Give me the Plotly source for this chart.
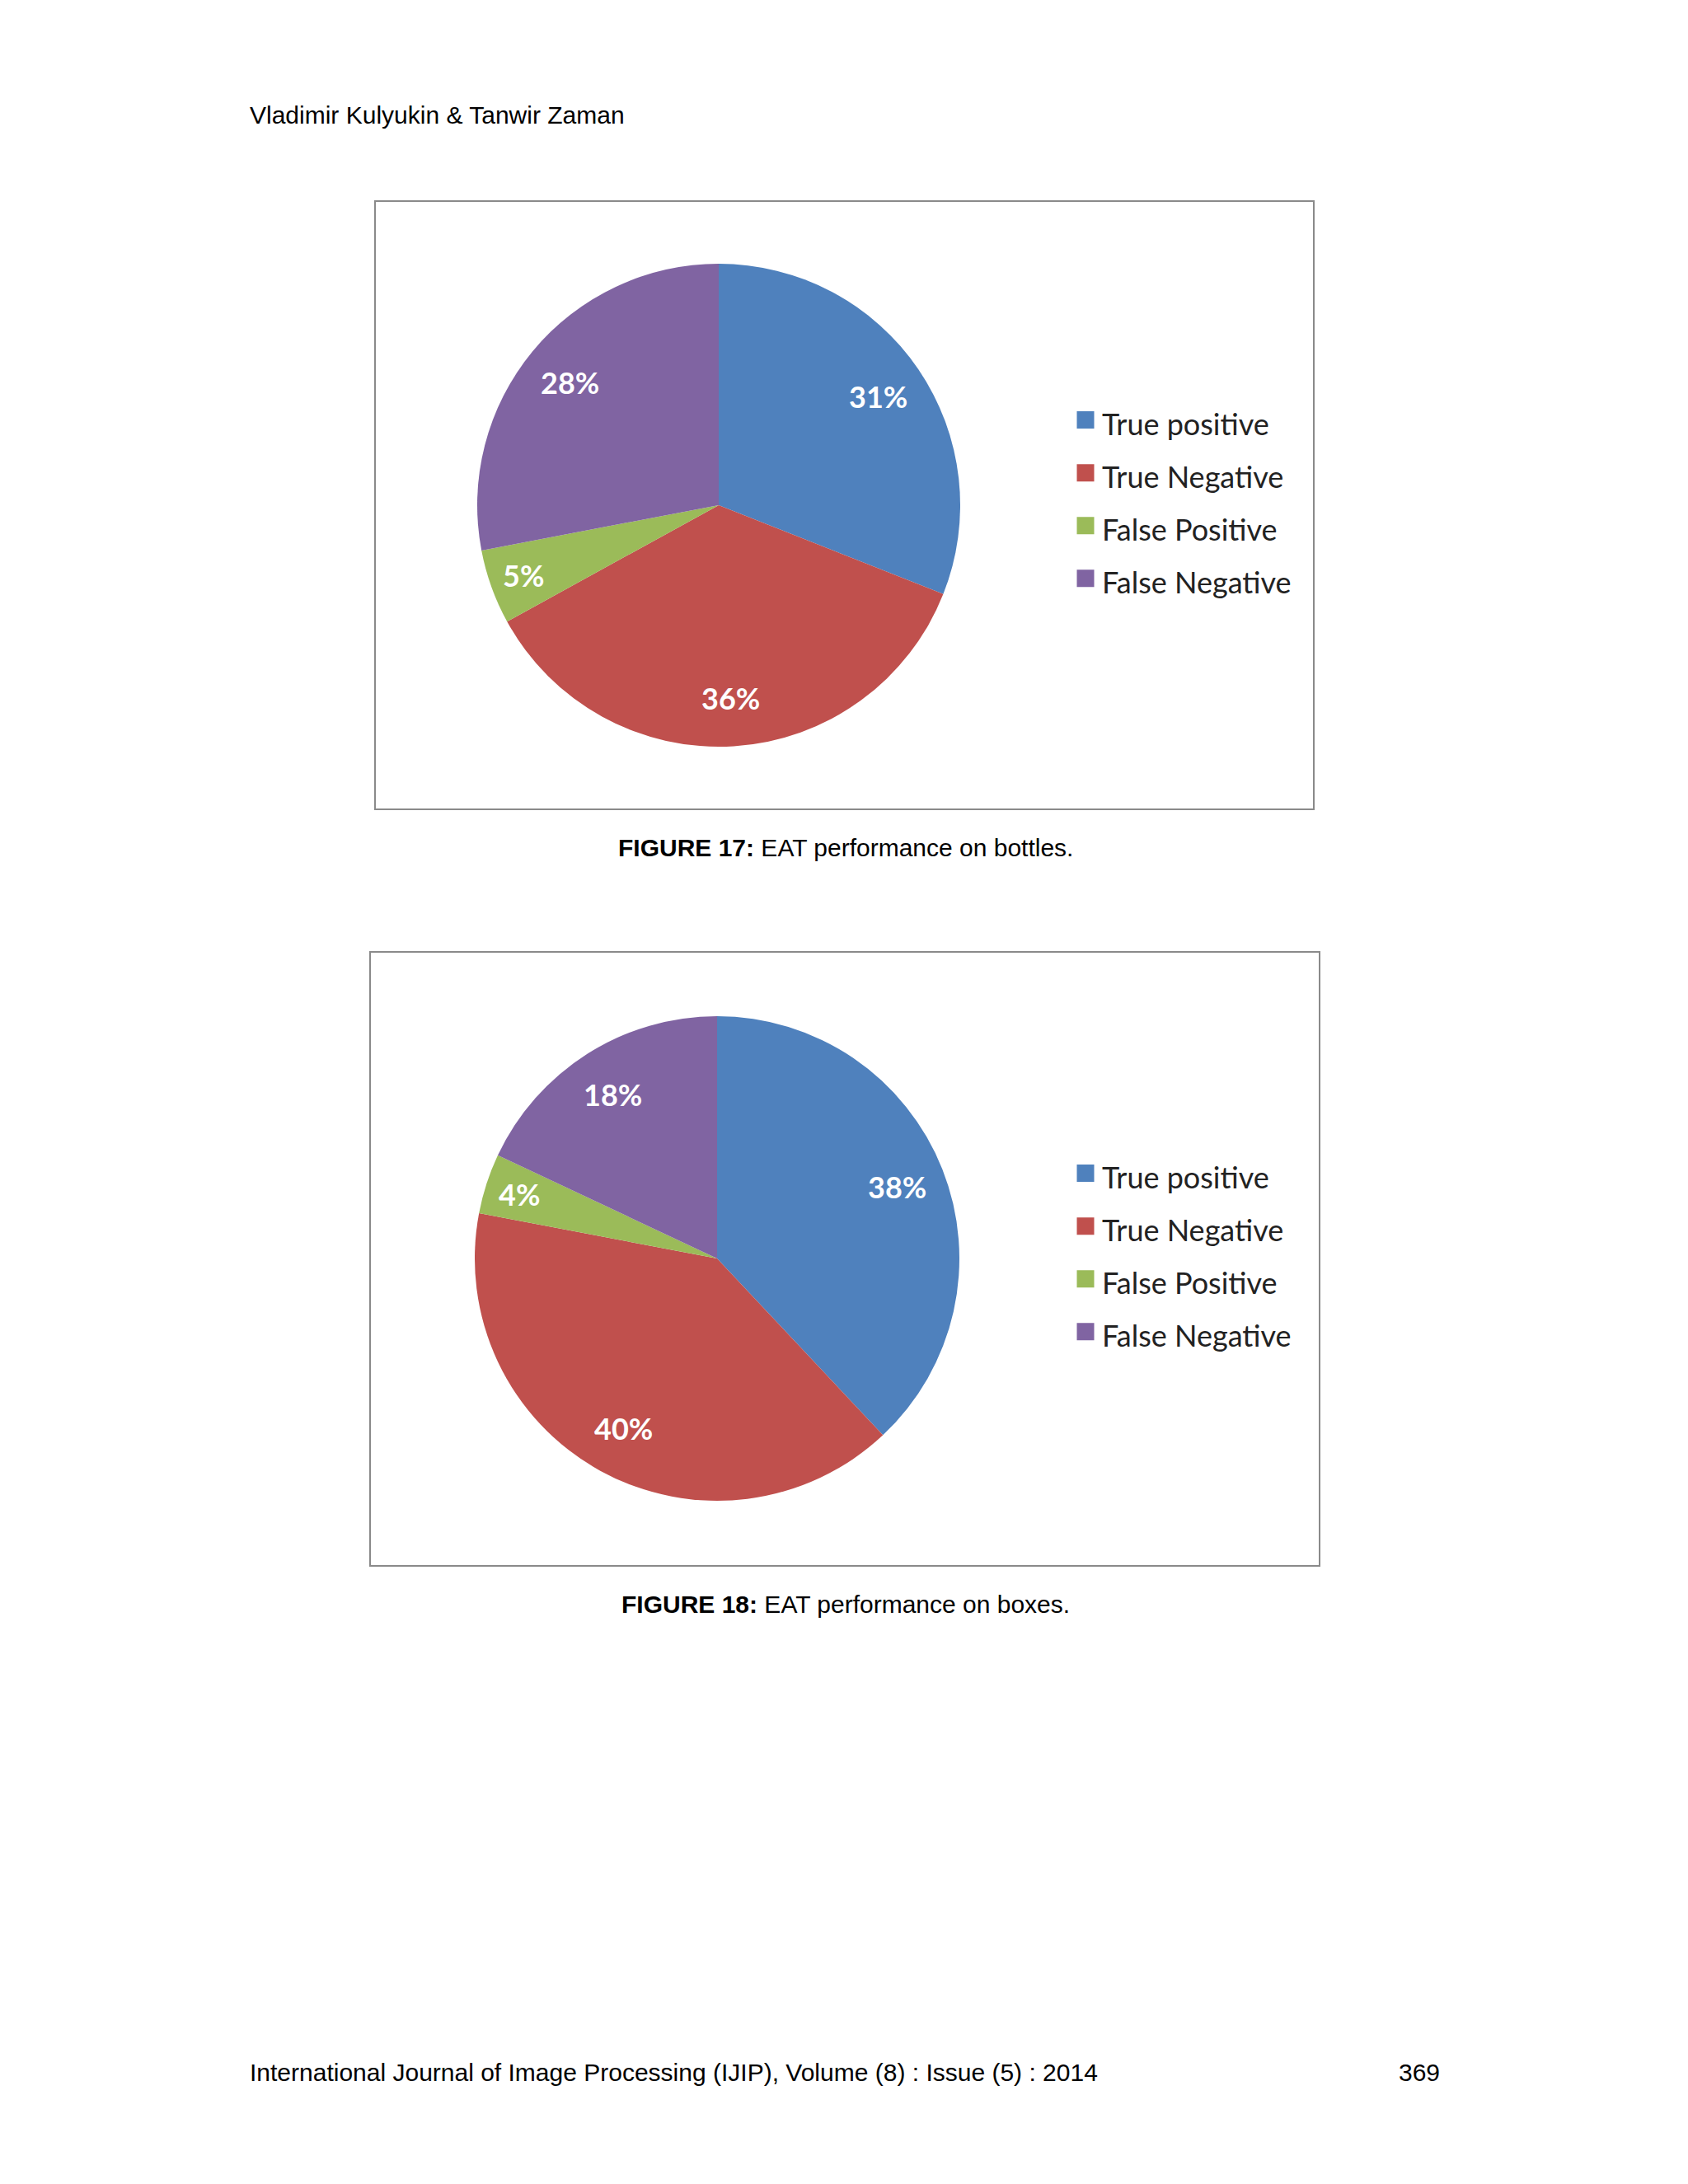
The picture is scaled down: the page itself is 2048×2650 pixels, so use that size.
import math
import plotly.graph_objects as go

# data
categories = ["True positive", "True Negative", "False Positive", "False Negative"]
bottles = [31, 36, 5, 28]
boxes = [38, 40, 4, 18]
colors = ["#4F81BD", "#C0504D", "#9BBB59", "#8064A2"]

W, H = 2032, 2634


def fx(p):
    return p / W


def fy(p):
    return 1 - p / H


def dom(cx, cy, r):
    return dict(x=[fx(cx - r), fx(cx + r)], y=[fy(cy + r), fy(cy - r)])


fig = go.Figure()

# (values, pie centre px, radius px, legend id)
charts = [
    (bottles, 864, 605, 293, "legend"),
    (boxes, 862, 1519, 294, "legend2"),
]

for values, cx, cy, r, lg in charts:
    fig.add_trace(go.Pie(
        labels=categories, values=values, sort=False, direction="clockwise",
        rotation=0, marker=dict(colors=colors), textinfo="none",
        domain=dom(cx, cy, r), showlegend=False, hoverinfo="label+percent",
    ))
    # legend entries with bigger square swatches
    for c, col in zip(categories, colors):
        fig.add_trace(go.Scatter(
            x=[None], y=[None], mode="markers", name="<span style='font-size:36px'>%s</span>" % c,
            marker=dict(symbol="square", size=16, color=col, line=dict(color=col, width=5)),
            legend=lg,
        ))
    # percentage labels, Excel-style near the rim
    total = sum(values)
    start = 0
    for v in values:
        mid = (start + v / 2) / total * 2 * math.pi
        f = 0.8 if v >= 10 else 0.86
        fig.add_annotation(
            text="<b>%d%%</b>" % round(100 * v / total),
            x=fx(cx + f * r * math.sin(mid)), y=fy(cy - f * r * math.cos(mid)),
            xref="paper", yref="paper", xanchor="center", yanchor="middle", showarrow=False,
            font=dict(family="Lato", size=36, color="white"),
        )
        start += v

leg = dict(font=dict(family="Lato", size=47, color="#222"), bgcolor="rgba(0,0,0,0)",
           xanchor="left", yanchor="middle")

fig.update_layout(
    width=W, height=H,
    margin=dict(l=0, r=0, t=0, b=0),
    paper_bgcolor="white", plot_bgcolor="white",
    xaxis=dict(visible=False), yaxis=dict(visible=False),
    legend=dict(leg, x=fx(1289), y=fy(598)),
    legend2=dict(leg, x=fx(1289), y=fy(1512)),
    shapes=[
        dict(type="rect", xref="paper", yref="paper", x0=fx(447), x1=fx(1586),
             y0=fy(974), y1=fy(236), line=dict(color="#8a8a8a", width=2)),
        dict(type="rect", xref="paper", yref="paper", x0=fx(441), x1=fx(1593),
             y0=fy(1892), y1=fy(1147), line=dict(color="#8a8a8a", width=2)),
    ],
)

txt = dict(family="Liberation Sans, Arial", size=30, color="black")
fig.add_annotation(text="Vladimir Kulyukin & Tanwir Zaman", x=fx(293), y=fy(131),
                   xref="paper", yref="paper", xanchor="left", yanchor="middle",
                   showarrow=False, font=txt)
fig.add_annotation(text="<b>FIGURE 17:</b> EAT performance on bottles.", x=fx(1018), y=fy(1020),
                   xref="paper", yref="paper", xanchor="center", yanchor="middle",
                   showarrow=False, font=txt)
fig.add_annotation(text="<b>FIGURE 18:</b> EAT performance on boxes.", x=fx(1018), y=fy(1938),
                   xref="paper", yref="paper", xanchor="center", yanchor="middle",
                   showarrow=False, font=txt)
fig.add_annotation(text="International Journal of Image Processing (IJIP), Volume (8) : Issue (5) : 2014",
                   x=fx(293), y=fy(2506), xref="paper", yref="paper", xanchor="left",
                   yanchor="middle", showarrow=False, font=txt)
fig.add_annotation(text="369", x=fx(1741), y=fy(2506), xref="paper", yref="paper",
                   xanchor="right", yanchor="middle", showarrow=False, font=txt)

fig.write_html("out.html")
